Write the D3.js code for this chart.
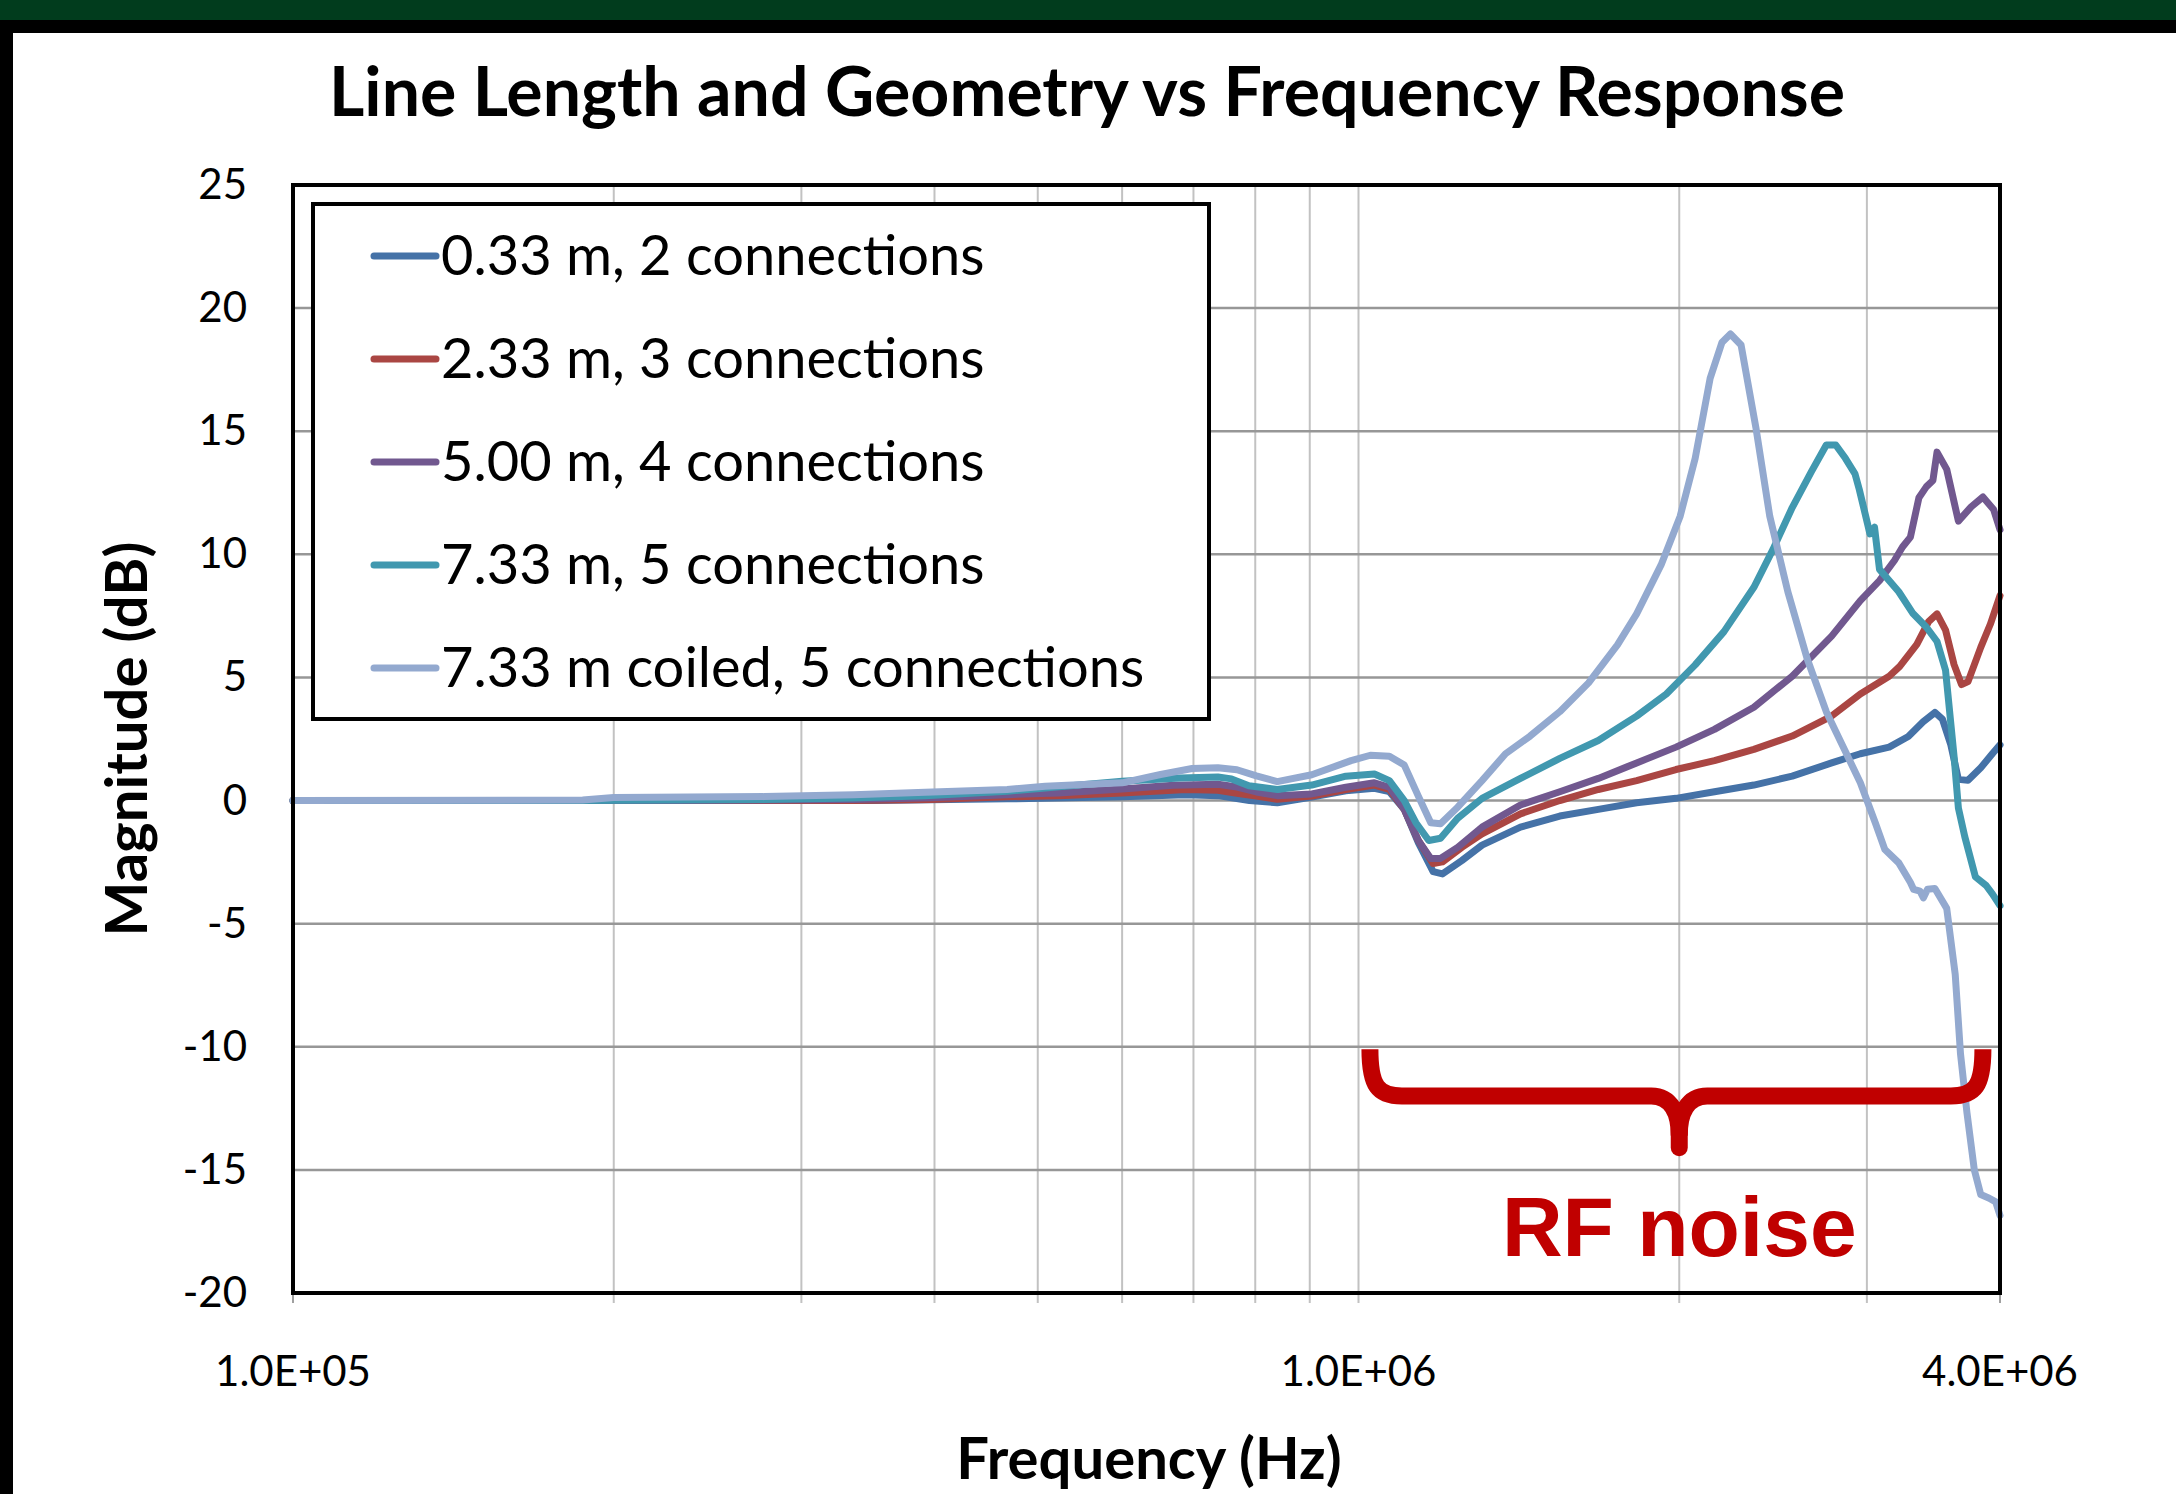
<!DOCTYPE html>
<html>
<head>
<meta charset="utf-8">
<script src="https://cdn.jsdelivr.net/npm/d3@7"></script>
<style>
  body { margin: 0; background: #fff; }
  text { font-family: Lato, "Open Sans", sans-serif; }
</style>
</head>
<body>
<svg id="chart" width="2176" height="1494"></svg>
<script>
// series: [frequency Hz, magnitude dB]
var s033 = [[100000,0],[350000,0],[468000,0.07],[600000,0.15],[689000,0.24],[738000,0.2],[790000,0],[839000,-0.09],[904000,0.14],[973000,0.4],[1035000,0.5],[1069000,0.36],[1104000,-0.36],[1138000,-1.71],[1175000,-2.89],[1199000,-2.98],[1250000,-2.44],[1306000,-1.81],[1419000,-1.08],[1545000,-0.63],[1679000,-0.36],[1824000,-0.09],[1986000,0.09],[2158000,0.36],[2350000,0.63],[2553000,0.99],[2780000,1.53],[2958000,1.9],[3148000,2.17],[3281000,2.6],[3388000,3.2],[3475000,3.58],[3532000,3.31],[3597000,2.26],[3656000,0.86],[3733000,0.82],[3837000,1.33],[3936000,1.91],[4000000,2.26]];
var s233 = [[100000,0],[336000,0],[397000,0.04],[468000,0.15],[523000,0.2],[600000,0.31],[689000,0.45],[738000,0.42],[769000,0.3],[802000,0.18],[839000,0.05],[904000,0.18],[973000,0.45],[1035000,0.63],[1069000,0.45],[1104000,-0.36],[1138000,-1.62],[1175000,-2.56],[1199000,-2.49],[1250000,-1.9],[1306000,-1.35],[1419000,-0.54],[1545000,0],[1679000,0.45],[1824000,0.81],[1986000,1.26],[2158000,1.62],[2350000,2.08],[2553000,2.62],[2780000,3.43],[2958000,4.33],[3148000,5.05],[3221000,5.45],[3342000,6.34],[3428000,7.27],[3491000,7.58],[3556000,6.92],[3622000,5.52],[3681000,4.71],[3733000,4.83],[3837000,6.22],[3917000,7.16],[4000000,8.32]];
var s500 = [[100000,0],[229000,0],[336000,0.04],[397000,0.11],[468000,0.24],[523000,0.31],[600000,0.47],[670000,0.62],[738000,0.66],[769000,0.55],[802000,0.35],[839000,0.2],[904000,0.27],[973000,0.54],[1035000,0.72],[1069000,0.54],[1104000,-0.36],[1138000,-1.62],[1169000,-2.35],[1194000,-2.35],[1239000,-1.9],[1306000,-1.08],[1419000,-0.18],[1545000,0.36],[1679000,0.9],[1824000,1.53],[1986000,2.17],[2158000,2.89],[2350000,3.79],[2553000,5.05],[2780000,6.68],[2958000,8.12],[3083000,8.93],[3184000,9.75],[3240000,10.3],[3296000,10.7],[3357000,12.3],[3412000,12.75],[3460000,13.0],[3491000,14.15],[3565000,13.45],[3656000,11.35],[3758000,11.93],[3855000,12.33],[3945000,11.82],[4000000,11.0]];
var s733 = [[100000,0],[187000,0],[277000,0.04],[336000,0.1],[392000,0.2],[468000,0.38],[508000,0.51],[600000,0.78],[680000,0.92],[738000,0.96],[760000,0.88],[789000,0.6],[839000,0.45],[904000,0.63],[973000,0.99],[1035000,1.08],[1069000,0.81],[1104000,0],[1132000,-0.9],[1164000,-1.62],[1194000,-1.53],[1239000,-0.72],[1306000,0.09],[1419000,0.9],[1545000,1.71],[1679000,2.44],[1824000,3.43],[1945000,4.33],[2070000,5.51],[2203000,6.86],[2350000,8.66],[2449000,10.2],[2553000,11.9],[2661000,13.36],[2748000,14.44],[2805000,14.44],[2864000,13.9],[2924000,13.27],[2951000,12.64],[3020000,10.83],[3050000,11.1],[3062000,10.47],[3083000,9.39],[3214000,8.48],[3311000,7.62],[3412000,7.04],[3491000,6.46],[3556000,5.29],[3622000,1.8],[3656000,-0.3],[3707000,-1.47],[3793000,-3.1],[3882000,-3.45],[3936000,-3.8],[4000000,-4.27]];
var s733c = [[100000,0],[187000,0.02],[200000,0.12],[277000,0.16],[336000,0.24],[392000,0.34],[468000,0.45],[508000,0.58],[600000,0.72],[652000,1.06],[698000,1.3],[738000,1.33],[769000,1.25],[802000,1.0],[839000,0.77],[904000,1.05],[984000,1.62],[1026000,1.84],[1069000,1.8],[1104000,1.44],[1138000,0.18],[1169000,-0.9],[1194000,-0.94],[1239000,-0.27],[1306000,0.81],[1374000,1.9],[1449000,2.62],[1545000,3.61],[1644000,4.78],[1750000,6.32],[1824000,7.58],[1923000,9.57],[2004000,11.55],[2070000,13.9],[2138000,17.15],[2193000,18.6],[2234000,18.95],[2286000,18.5],[2360000,15.16],[2432000,11.55],[2529000,8.48],[2636000,5.78],[2748000,3.61],[2864000,1.99],[2958000,0.72],[3055000,-0.9],[3119000,-1.99],[3214000,-2.53],[3296000,-3.33],[3319000,-3.61],[3365000,-3.68],[3390000,-3.95],[3420000,-3.6],[3475000,-3.57],[3565000,-4.38],[3631000,-7.06],[3673000,-10.3],[3724000,-12.66],[3784000,-15.0],[3837000,-16.0],[3908000,-16.15],[3963000,-16.3],[4000000,-16.85]];

var seriesData = [s033, s233, s500, s733, s733c];
var seriesNames = ['0.33 m, 2 connections', '2.33 m, 3 connections', '5.00 m, 4 connections', '7.33 m, 5 connections', '7.33 m coiled, 5 connections'];
var seriesColors = ['#4572A7', '#AA4643', '#71588F', '#4198AF', '#93A9CF'];

var yTicks = [-20, -15, -10, -5, 0, 5, 10, 15, 20, 25];
var xLabelTicks = [1e5, 1e6, 4e6];
var xLabelText = ['1.0E+05', '1.0E+06', '4.0E+06'];

// "RF noise" brace: frequency span, centre, and dB levels (top, bar, tip, label)
var braceFreq = [1.025e6, 3.855e6];
var braceMid = 2e6;
var braceDb = [-10.1, -12.0, -14.1];
var noiseLabelDb = -18.5;

var svg = d3.select('#chart');
var plot = {left: 293, right: 2000, top: 185, bottom: 1293};

var x = d3.scaleLog().domain([1e5, 4e6]).range([plot.left, plot.right]);
var y = d3.scaleLinear().domain([-20, 25]).range([plot.bottom, plot.top]);

// slide frame
svg.append('rect').attr('x', 0).attr('y', 0).attr('width', 2176).attr('height', 20).attr('fill', '#013c1d');
svg.append('rect').attr('x', 0).attr('y', 20).attr('width', 2176).attr('height', 13).attr('fill', '#000');
svg.append('rect').attr('x', 0).attr('y', 20).attr('width', 13).attr('height', 1474).attr('fill', '#000');

// title
svg.append('text')
  .attr('x', 1087).attr('y', 116)
  .attr('text-anchor', 'middle')
  .style('font-weight', 700).style('font-size', '68px')
  .text('Line Length and Geometry vs Frequency Response');

// gridlines
var xGrid = x.ticks().filter(function(d){ return d > 1e5 && d < 4e6; });
svg.append('g').selectAll('line').data(xGrid).enter().append('line')
  .attr('x1', function(d){ return x(d); }).attr('x2', function(d){ return x(d); })
  .attr('y1', plot.top).attr('y2', plot.bottom + 10)
  .attr('stroke', '#c2c2c2').attr('stroke-width', 2);

svg.append('g').selectAll('line').data(yTicks.slice(1, -1)).enter().append('line')
  .attr('x1', plot.left).attr('x2', plot.right)
  .attr('y1', function(d){ return y(d); }).attr('y2', function(d){ return y(d); })
  .attr('stroke', '#979797').attr('stroke-width', 2.5);

// small ticks under the x axis at the edges
svg.append('g').selectAll('line').data([1e5, 4e6]).enter().append('line')
  .attr('x1', function(d){ return x(d); }).attr('x2', function(d){ return x(d); })
  .attr('y1', plot.bottom).attr('y2', plot.bottom + 10)
  .attr('stroke', '#a0a0a0').attr('stroke-width', 2);

// series
var line = d3.line()
  .x(function(d){ return x(d[0]); })
  .y(function(d){ return y(d[1]); });

svg.append('g').selectAll('path').data(seriesData).enter().append('path')
  .attr('d', line)
  .attr('fill', 'none')
  .attr('stroke', function(d, i){ return seriesColors[i]; })
  .attr('stroke-width', 7)
  .attr('stroke-linejoin', 'round')
  .attr('stroke-linecap', 'round');

// plot border
svg.append('rect')
  .attr('x', plot.left).attr('y', plot.top)
  .attr('width', plot.right - plot.left).attr('height', plot.bottom - plot.top)
  .attr('fill', 'none').attr('stroke', '#000').attr('stroke-width', 4);

// y axis labels (plain hyphen for negatives, as in the original)
var yAxis = d3.axisLeft(y).tickValues(yTicks).tickSize(0).tickPadding(46)
  .tickFormat(function(d){ return String(d); });
var gy = svg.append('g').attr('transform', 'translate(' + plot.left + ',0)').call(yAxis);
gy.select('.domain').remove();
gy.selectAll('text').style('font-size', '42px').style('font-family', 'Lato, sans-serif').attr('fill', '#000');

// x axis labels
svg.append('g').selectAll('text').data(xLabelTicks).enter().append('text')
  .attr('x', function(d){ return x(d); })
  .attr('y', 1386)
  .attr('text-anchor', 'middle')
  .style('font-size', '42px')
  .text(function(d, i){ return xLabelText[i]; });

// axis titles
svg.append('text')
  .attr('transform', 'translate(147,' + ((plot.top + plot.bottom) / 2) + ') rotate(-90)')
  .attr('text-anchor', 'middle')
  .style('font-weight', 700).style('font-size', '58px')
  .text('Magnitude (dB)');

svg.append('text')
  .attr('x', 1149).attr('y', 1479)
  .attr('text-anchor', 'middle')
  .style('font-weight', 700).style('font-size', '58px')
  .text('Frequency (Hz)');

// legend
var legend = svg.append('g');
legend.append('rect')
  .attr('x', 313).attr('y', 204).attr('width', 896).attr('height', 515)
  .attr('fill', '#fff').attr('stroke', '#000').attr('stroke-width', 4);

var items = legend.selectAll('g.item').data(seriesNames).enter().append('g')
  .attr('class', 'item')
  .attr('transform', function(d, i){ return 'translate(0,' + (256 + i * 103) + ')'; });
items.append('line')
  .attr('x1', 374).attr('x2', 436).attr('y1', 0).attr('y2', 0)
  .attr('stroke', function(d, i){ return seriesColors[i]; })
  .attr('stroke-width', 7).attr('stroke-linecap', 'round');
items.append('text')
  .attr('x', 441).attr('y', 19)
  .style('font-size', '56px')
  .text(function(d){ return d; });

// RF noise brace
var bl = x(braceFreq[0]), br = x(braceFreq[1]), bm = x(braceMid);
var bt = y(braceDb[0]), bb = y(braceDb[1]), btip = y(braceDb[2]);
var brace = d3.path();
brace.moveTo(bl, bt);
brace.bezierCurveTo(bl, bb - 10, bl + 8, bb, bl + 32, bb);
brace.lineTo(bm - 28, bb);
brace.bezierCurveTo(bm - 8, bb, bm, bb + 18, bm, btip - 12);
brace.moveTo(br, bt);
brace.bezierCurveTo(br, bb - 10, br - 8, bb, br - 32, bb);
brace.lineTo(bm + 28, bb);
brace.bezierCurveTo(bm + 8, bb, bm, bb + 18, bm, btip - 12);
svg.append('path').attr('d', brace.toString())
  .attr('fill', 'none').attr('stroke', '#c00000').attr('stroke-width', 17);
svg.append('line')
  .attr('x1', bm).attr('x2', bm).attr('y1', btip - 20).attr('y2', btip)
  .attr('stroke', '#c00000').attr('stroke-width', 17).attr('stroke-linecap', 'round');

svg.append('text')
  .attr('x', bm).attr('y', y(noiseLabelDb))
  .attr('text-anchor', 'middle')
  .style('font-family', '"Liberation Sans", Arial, sans-serif')
  .style('font-weight', 700).style('font-size', '84px')
  .attr('fill', '#c00000')
  .text('RF noise');
</script>
</body>
</html>
